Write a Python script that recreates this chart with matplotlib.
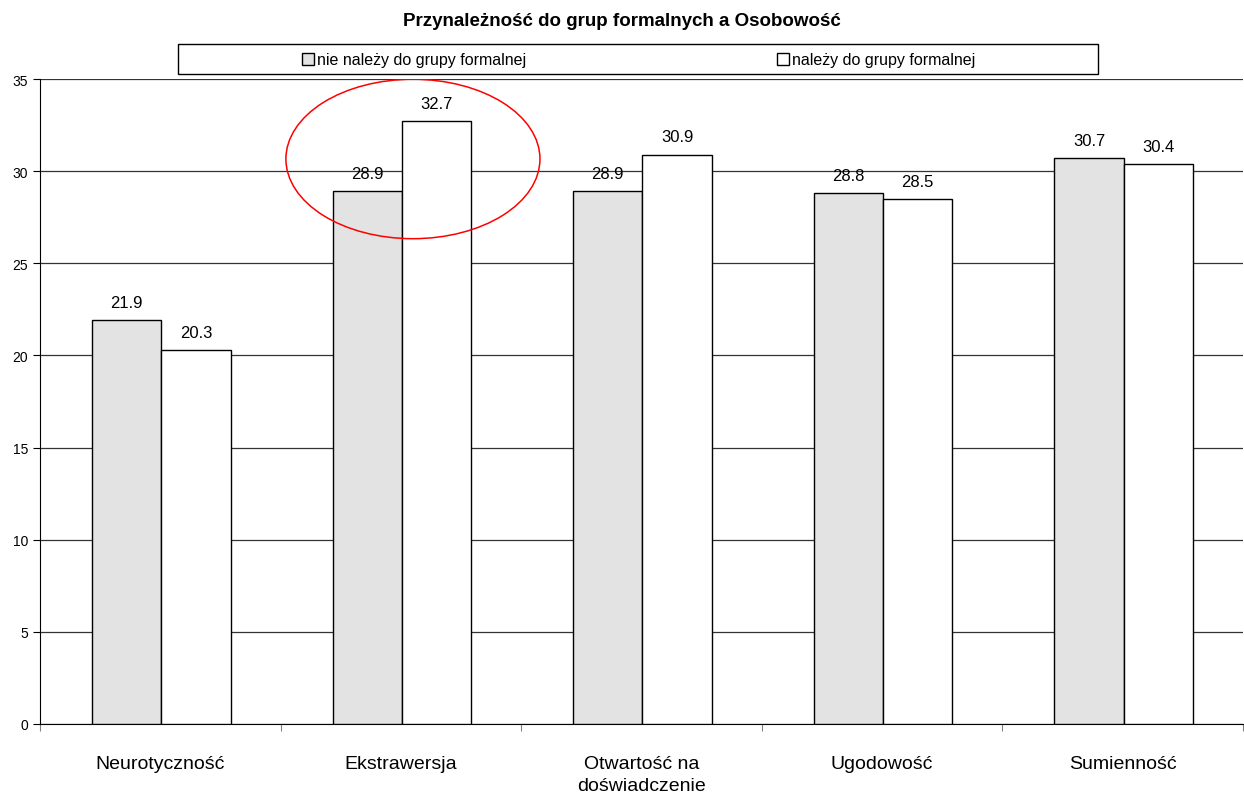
import matplotlib
matplotlib.use("Agg")
import matplotlib.pyplot as plt
from matplotlib.patches import Ellipse, Patch, Rectangle
import numpy as np

categories = ["Neurotyczność", "Ekstrawersja", "Otwartość na\ndoświadczenie", "Ugodowość", "Sumienność"]
nie_nalezy = [21.9, 28.9, 28.9, 28.8, 30.7]
nalezy = [20.3, 32.7, 30.9, 28.5, 30.4]
series_labels = ["nie należy do grupy formalnej", "należy do grupy formalnej"]
colors = ["#e3e3e3", "white"]

plt.rcParams['font.family'] = ['Liberation Sans', 'DejaVu Sans']

W, H = 1244, 804
fig = plt.figure(figsize=(W/100, H/100), dpi=100)
ax = fig.add_axes([40/W, 1-725/H, 1203/W, 645/H])

x = np.arange(len(categories))
w = 0.288
b1 = ax.bar(x - w/2 + 0.004, nie_nalezy, w, color=colors[0], edgecolor="black", linewidth=1, zorder=3)
b2 = ax.bar(x + w/2 + 0.004, nalezy, w, color=colors[1], edgecolor="black", linewidth=1, zorder=3)

for bars, vals in ((b1, nie_nalezy), (b2, nalezy)):
    for r, v in zip(bars, vals):
        ax.text(r.get_x() + r.get_width()/2, v + 0.55, f"{v:.1f}", ha="center", va="bottom", fontsize=12)

ax.set_xlim(-0.5, len(categories) - 0.5)
ax.set_ylim(0, 35)
ax.set_yticks(range(0, 36, 5))
ax.tick_params(axis="y", labelsize=10, length=5, direction="out")
ax.set_xticks(np.arange(-0.5, len(categories), 1))
ax.set_xticklabels([])
ax.set_xticks(x, minor=True)
ax.set_xticklabels(categories, minor=True, fontsize=14, linespacing=1.45)
ax.tick_params(axis="x", which="major", length=5, direction="out", color="gray")
ax.tick_params(axis="x", which="minor", length=0, pad=22)
ax.yaxis.grid(True, color="#333333", linewidth=0.9, zorder=0)
for s in ("top", "right"):
    ax.spines[s].set_visible(False)
ax.spines["left"].set_zorder(4)

# red highlight around Ekstrawersja
ell = Ellipse((1.05, 30.66), 1.056, 8.65, fill=False, edgecolor="red", linewidth=1.1, zorder=5)
ax.add_patch(ell)

fig.suptitle("Przynależność do grup formalnych a Osobowość", fontsize=13.5, fontweight="bold", y=1-21/H, va="center")

# legend frame + two centred entries
fig.patches.append(Rectangle((178/W, 1-75/H), 920/W, 30/H, transform=fig.transFigure,
                             facecolor="white", edgecolor="black", linewidth=1))
for lab, c, cx in zip(series_labels, colors, [414, 876]):
    leg = fig.legend([Patch(facecolor=c, edgecolor="black")], [lab], loc="center",
                     bbox_to_anchor=(cx/W, 1-61/H), fontsize=11.5, frameon=False,
                     handlelength=0.75, handleheight=0.75, handletextpad=0.2, borderaxespad=0)

fig.savefig("out.png", dpi=100, facecolor="white")
